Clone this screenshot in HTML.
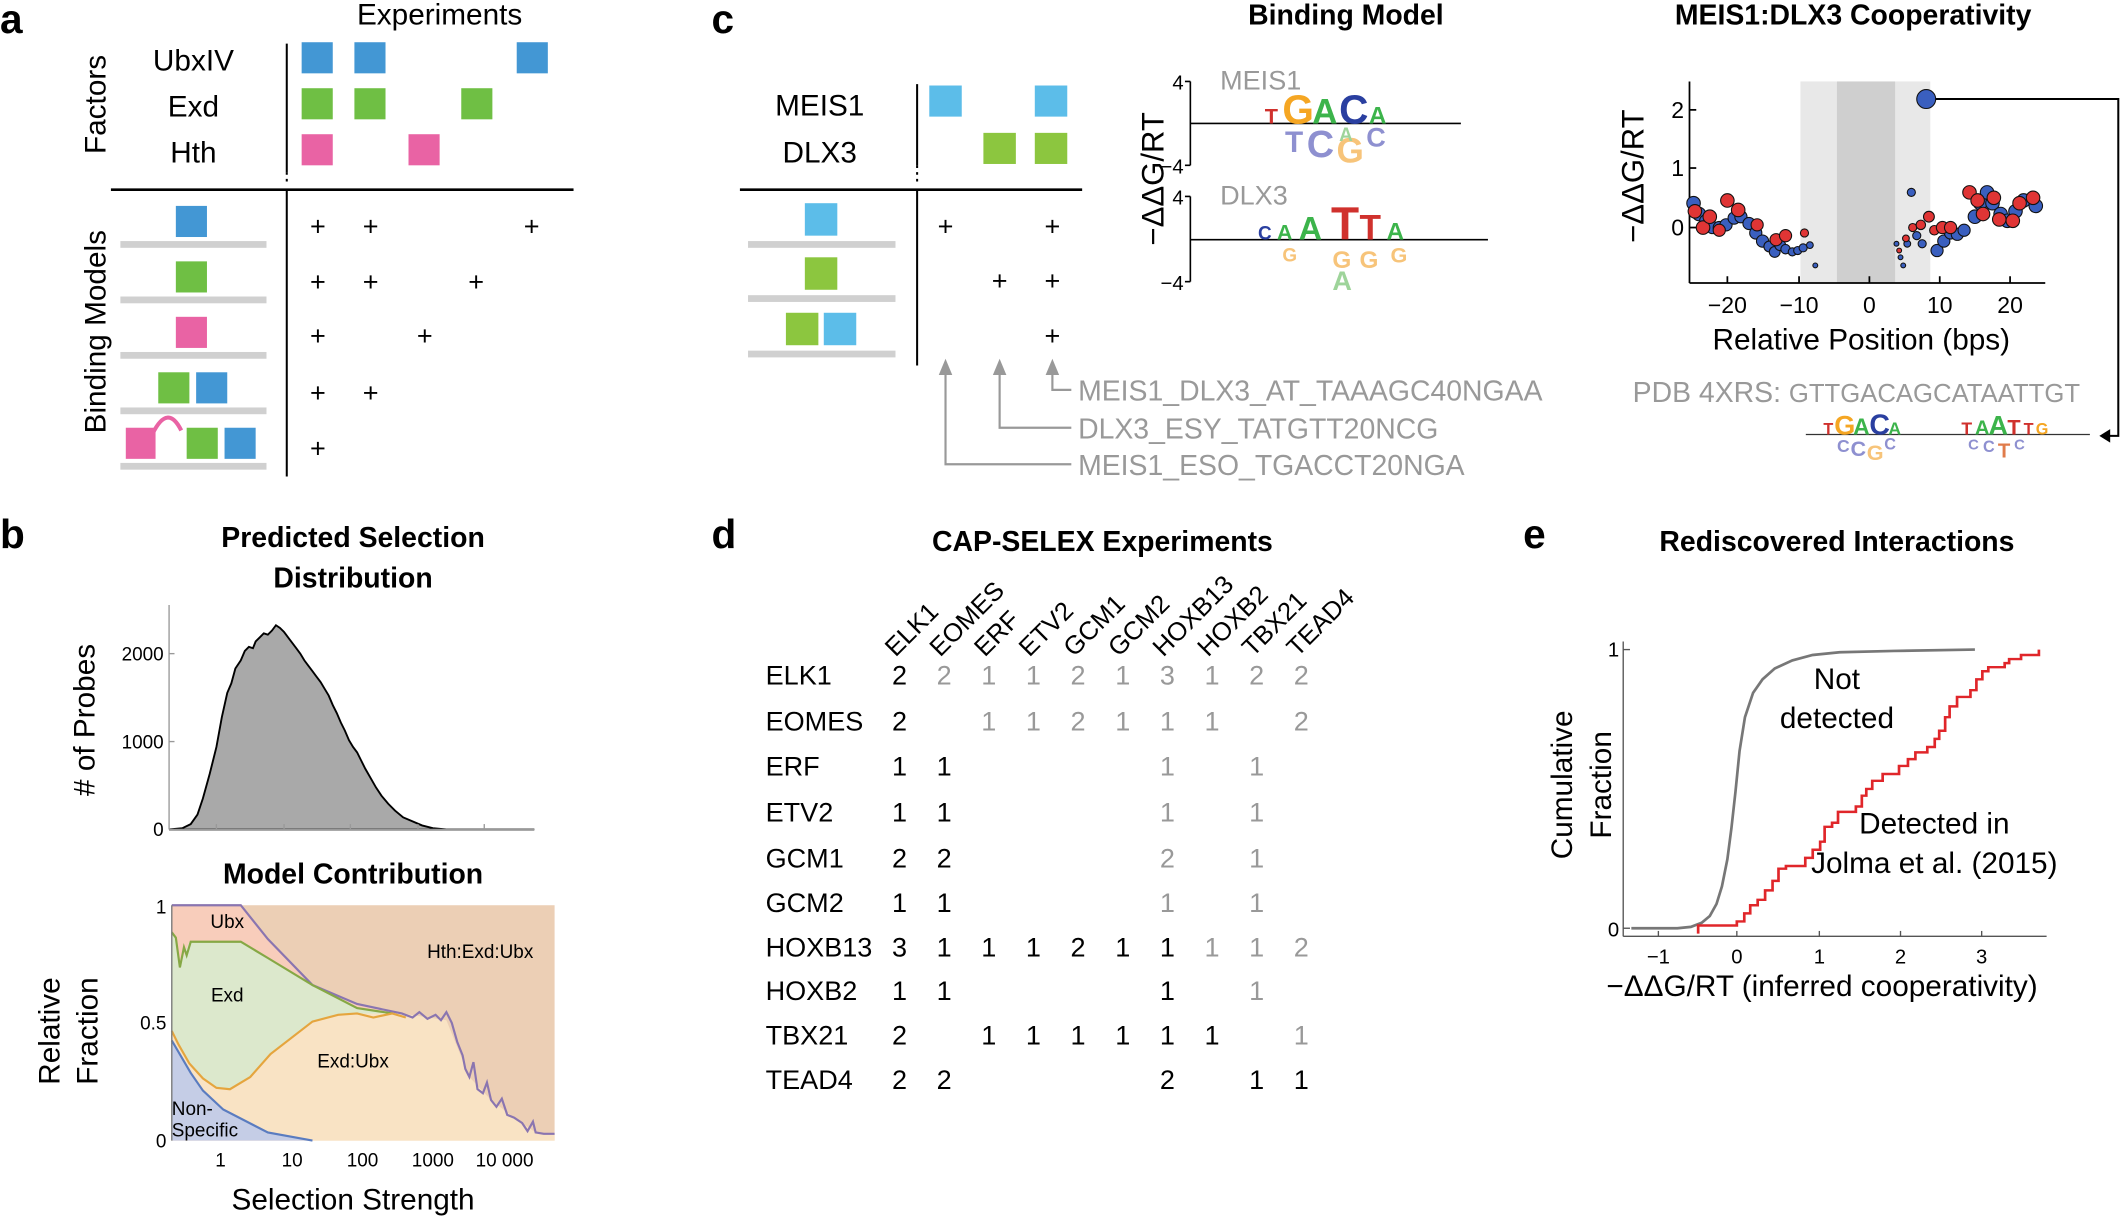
<!DOCTYPE html>
<html><head><meta charset="utf-8"><style>
html,body{margin:0;padding:0;background:#fff;}
svg{display:block;}
text{font-family:"Liberation Sans",sans-serif;}
</style></head><body>
<svg width="2121" height="1218" viewBox="0 0 1568 900" xmlns="http://www.w3.org/2000/svg">
<!-- ===== Panel a ===== -->
<text x="0" y="24" font-size="30" font-weight="bold">a</text>
<text x="325" y="18" font-size="22" text-anchor="middle">Experiments</text>
<text transform="translate(78,77) rotate(-90)" font-size="22" text-anchor="middle">Factors</text>
<text x="143" y="52" font-size="22" text-anchor="middle">UbxIV</text>
<text x="143" y="86" font-size="22" text-anchor="middle">Exd</text>
<text x="143" y="120" font-size="22" text-anchor="middle">Hth</text>
<line x1="212" y1="32" x2="212" y2="127" stroke="#000" stroke-width="1.5"/>
<line x1="212" y1="127" x2="212" y2="137" stroke="#000" stroke-width="1.5" stroke-dasharray="2,3"/>
<line x1="212" y1="140" x2="212" y2="352" stroke="#000" stroke-width="1.5"/>
<line x1="82" y1="140" x2="424" y2="140" stroke="#000" stroke-width="2"/>
<g fill="#4397d4"><rect x="223" y="31" width="23" height="23"/><rect x="262" y="31" width="23" height="23"/><rect x="382" y="31" width="23" height="23"/></g>
<g fill="#6fbf44"><rect x="223" y="65" width="23" height="23"/><rect x="262" y="65" width="23" height="23"/><rect x="341" y="65" width="23" height="23"/></g>
<g fill="#e963a4"><rect x="223" y="99" width="23" height="23"/><rect x="302" y="99" width="23" height="23"/></g>
<text transform="translate(78,245) rotate(-90)" font-size="22" text-anchor="middle">Binding Models</text>
<g fill="#d0d0d0"><rect x="89" y="178" width="108" height="5"/><rect x="89" y="219" width="108" height="5"/><rect x="89" y="260" width="108" height="5"/><rect x="89" y="301" width="108" height="5"/><rect x="89" y="342" width="108" height="5"/></g>
<rect x="130" y="152" width="23" height="23" fill="#4397d4"/>
<rect x="130" y="193" width="23" height="23" fill="#6fbf44"/>
<rect x="130" y="234" width="23" height="23" fill="#e963a4"/>
<rect x="117" y="275" width="23" height="23" fill="#6fbf44"/><rect x="145" y="275" width="23" height="23" fill="#4397d4"/>
<rect x="93" y="316" width="22" height="23" fill="#e963a4"/><rect x="138" y="316" width="23" height="23" fill="#6fbf44"/><rect x="166" y="316" width="23" height="23" fill="#4397d4"/>
<path d="M113,320 Q124,298 134,318" fill="none" stroke="#e963a4" stroke-width="3"/>
<g font-size="20" text-anchor="middle">
<text x="235" y="174">+</text><text x="274" y="174">+</text><text x="393" y="174">+</text>
<text x="235" y="215">+</text><text x="274" y="215">+</text><text x="352" y="215">+</text>
<text x="235" y="255">+</text><text x="314" y="255">+</text>
<text x="235" y="297">+</text><text x="274" y="297">+</text>
<text x="235" y="338">+</text>
</g>
<!-- ===== Panel c ===== -->
<text x="526" y="24" font-size="30" font-weight="bold">c</text>
<text x="606" y="85" font-size="22" text-anchor="middle">MEIS1</text>
<text x="606" y="120" font-size="22" text-anchor="middle">DLX3</text>
<line x1="678" y1="62" x2="678" y2="122" stroke="#000" stroke-width="1.5"/>
<line x1="678" y1="122" x2="678" y2="137" stroke="#000" stroke-width="1.5" stroke-dasharray="2,3"/>
<line x1="678" y1="140" x2="678" y2="270" stroke="#000" stroke-width="1.5"/>
<line x1="547" y1="140" x2="800" y2="140" stroke="#000" stroke-width="2"/>
<g fill="#5cbde9"><rect x="687" y="63" width="24" height="23"/><rect x="765" y="63" width="24" height="23"/></g>
<g fill="#8cc63f"><rect x="727" y="98" width="24" height="23"/><rect x="765" y="98" width="24" height="23"/></g>
<g fill="#d0d0d0"><rect x="553" y="178" width="109" height="5"/><rect x="553" y="218" width="109" height="5"/><rect x="553" y="259" width="109" height="5"/></g>
<rect x="595" y="150" width="24" height="24" fill="#5cbde9"/>
<rect x="595" y="190" width="24" height="24" fill="#8cc63f"/>
<rect x="581" y="231" width="24" height="24" fill="#8cc63f"/><rect x="609" y="231" width="24" height="24" fill="#5cbde9"/>
<g font-size="20" text-anchor="middle">
<text x="699" y="174">+</text><text x="778" y="174">+</text>
<text x="739" y="214">+</text><text x="778" y="214">+</text>
<text x="778" y="255">+</text>
</g>
<g stroke="#999" stroke-width="1.6" fill="none">
<polyline points="778,276 778,288 792,288"/>
<polyline points="739,276 739,316 792,316"/>
<polyline points="699,276 699,343 792,343"/>
</g>
<g fill="#999"><polygon points="694,277 704,277 699,265"/><polygon points="734,277 744,277 739,265"/><polygon points="773,277 783,277 778,265"/></g>
<g font-size="21" fill="#999">
<text x="797" y="296">MEIS1_DLX3_AT_TAAAGC40NGAA</text>
<text x="797" y="324">DLX3_ESY_TATGTT20NCG</text>
<text x="797" y="351">MEIS1_ESO_TGACCT20NGA</text>
</g>
<!-- Binding Model -->
<text x="995" y="18" font-size="21" font-weight="bold" text-anchor="middle">Binding Model</text>
<text transform="translate(860,132) rotate(-90)" font-size="23" text-anchor="middle">−ΔΔG/RT</text>
<g stroke="#000" stroke-width="1.2">
<line x1="880" y1="60" x2="880" y2="122"/><line x1="876" y1="60" x2="880" y2="60"/><line x1="876" y1="122" x2="880" y2="122"/>
<line x1="880" y1="91" x2="1080" y2="91"/>
<line x1="880" y1="145" x2="880" y2="208"/><line x1="876" y1="145" x2="880" y2="145"/><line x1="876" y1="208" x2="880" y2="208"/>
<line x1="880" y1="177" x2="1100" y2="177"/>
</g>
<g font-size="15" text-anchor="end"><text x="875" y="66">4</text><text x="875" y="128">−4</text><text x="875" y="151">4</text><text x="875" y="214">−4</text></g>
<text x="902" y="66" font-size="20" fill="#999">MEIS1</text>
<text x="902" y="151" font-size="20" fill="#999">DLX3</text>
<g font-weight="bold">
<text x="935" y="91" font-size="16" fill="#d0312d">T</text>
<text x="948" y="91" font-size="30" fill="#f5a623">G</text>
<text x="970" y="91" font-size="26" fill="#3cb44b">A</text>
<text x="990" y="91" font-size="30" fill="#2a3fa0">C</text>
<text x="1012" y="91" font-size="18" fill="#3cb44b">A</text>
<text x="950" y="112" font-size="22" fill="#8e90d0">T</text>
<text x="966" y="116" font-size="28" fill="#8e90d0">C</text>
<text x="988" y="120" font-size="26" fill="#f7c47a">G</text>
<text x="1010" y="108" font-size="20" fill="#8e90d0">C</text>
<text x="990" y="104" font-size="14" fill="#9ed49a">A</text>
<text x="930" y="177" font-size="14" fill="#2a3fa0">C</text>
<text x="944" y="177" font-size="16" fill="#3cb44b">A</text>
<text x="960" y="177" font-size="24" fill="#3cb44b">A</text>
<text x="984" y="177" font-size="34" fill="#d0312d">T</text>
<text x="1005" y="177" font-size="26" fill="#d0312d">T</text>
<text x="1025" y="177" font-size="18" fill="#3cb44b">A</text>
<text x="948" y="193" font-size="14" fill="#f7c47a">G</text>
<text x="985" y="198" font-size="18" fill="#f7c47a">G</text>
<text x="1005" y="198" font-size="18" fill="#f7c47a">G</text>
<text x="985" y="214" font-size="20" fill="#9ed49a">A</text>
<text x="1028" y="194" font-size="16" fill="#f7c47a">G</text>
</g>
<!-- Cooperativity -->
<text x="1370" y="18" font-size="21" font-weight="bold" text-anchor="middle">MEIS1:DLX3 Cooperativity</text>
<rect x="1331" y="60" width="96" height="149" fill="#e8e8e8"/>
<rect x="1358" y="60" width="43" height="149" fill="#cfcfcf"/>
<g stroke="#000" stroke-width="1.3">
<line x1="1249" y1="60" x2="1249" y2="209"/><line x1="1249" y1="209" x2="1512" y2="209"/>
<line x1="1249" y1="81" x2="1254" y2="81"/><line x1="1249" y1="124" x2="1254" y2="124"/><line x1="1249" y1="168" x2="1254" y2="168"/>
<line x1="1277" y1="209" x2="1277" y2="204"/><line x1="1330" y1="209" x2="1330" y2="204"/><line x1="1382" y1="209" x2="1382" y2="204"/><line x1="1434" y1="209" x2="1434" y2="204"/><line x1="1486" y1="209" x2="1486" y2="204"/>
</g>
<g font-size="17" text-anchor="end"><text x="1245" y="87">2</text><text x="1245" y="130">1</text><text x="1245" y="174">0</text></g>
<g font-size="17" text-anchor="middle"><text x="1277" y="231">−20</text><text x="1330" y="231">−10</text><text x="1382" y="231">0</text><text x="1434" y="231">10</text><text x="1486" y="231">20</text></g>
<text x="1376" y="258" font-size="22" text-anchor="middle">Relative Position (bps)</text>
<text transform="translate(1215,130) rotate(-90)" font-size="23" text-anchor="middle">−ΔΔG/RT</text>
<g stroke="#111" stroke-width="0.8" transform="translate(0,0)">
<g fill="#3a5fbf">
<circle cx="1252" cy="150" r="5"/><circle cx="1256" cy="158" r="5"/><circle cx="1261" cy="163" r="4.5"/><circle cx="1266" cy="168" r="4.5"/><circle cx="1271" cy="168" r="4.5"/><circle cx="1276" cy="166" r="4.5"/><circle cx="1282" cy="161" r="4.5"/><circle cx="1287" cy="160" r="4.5"/><circle cx="1293" cy="165" r="4.5"/><circle cx="1298" cy="172" r="4.5"/><circle cx="1303" cy="178" r="4.5"/><circle cx="1308" cy="182" r="4"/><circle cx="1312" cy="186" r="4"/><circle cx="1316" cy="181" r="4"/><circle cx="1320" cy="184" r="3.5"/><circle cx="1325" cy="186" r="3"/><circle cx="1329" cy="185" r="3"/><circle cx="1333" cy="183" r="3"/><circle cx="1338" cy="181" r="2.5"/><circle cx="1342" cy="196" r="1.8"/>
<circle cx="1402" cy="180" r="1.8"/><circle cx="1405" cy="190" r="1.8"/><circle cx="1407" cy="196" r="1.8"/><circle cx="1410" cy="180" r="2.5"/><circle cx="1413" cy="142" r="3"/><circle cx="1417" cy="174" r="3"/><circle cx="1421" cy="180" r="3"/>
<circle cx="1432" cy="185" r="4.5"/><circle cx="1437" cy="178" r="4.5"/><circle cx="1442" cy="172" r="4.5"/><circle cx="1447" cy="173" r="4.5"/><circle cx="1452" cy="170" r="4.5"/><circle cx="1460" cy="160" r="5"/><circle cx="1464" cy="150" r="5"/><circle cx="1469" cy="142" r="5"/><circle cx="1473" cy="150" r="5"/><circle cx="1479" cy="158" r="5"/><circle cx="1484" cy="163" r="5"/><circle cx="1490" cy="156" r="5"/><circle cx="1496" cy="148" r="5"/><circle cx="1505" cy="152" r="5"/>
<circle cx="1424" cy="73" r="7"/>
</g>
<g fill="#e03535">
<circle cx="1253" cy="156" r="5"/><circle cx="1259" cy="168" r="5"/><circle cx="1264" cy="160" r="5"/><circle cx="1271" cy="170" r="4.5"/><circle cx="1277" cy="148" r="5"/><circle cx="1285" cy="155" r="5"/><circle cx="1299" cy="166" r="4.5"/><circle cx="1313" cy="177" r="4.5"/><circle cx="1320" cy="174" r="4.5"/><circle cx="1334" cy="172" r="3"/>
<circle cx="1404" cy="185" r="1.8"/><circle cx="1409" cy="176" r="2.5"/><circle cx="1414" cy="168" r="3"/><circle cx="1420" cy="166" r="3.5"/><circle cx="1426" cy="160" r="4"/><circle cx="1430" cy="170" r="3.5"/><circle cx="1436" cy="168" r="4.5"/><circle cx="1442" cy="168" r="4.5"/><circle cx="1456" cy="142" r="5"/><circle cx="1462" cy="148" r="5"/><circle cx="1466" cy="158" r="5"/><circle cx="1474" cy="146" r="5"/><circle cx="1478" cy="162" r="5"/><circle cx="1488" cy="163" r="5"/><circle cx="1493" cy="150" r="5"/><circle cx="1503" cy="146" r="5"/>
</g>
</g>
<polyline points="1431,73 1566,73 1566,322 1556,322" fill="none" stroke="#000" stroke-width="1.5"/>
<polygon points="1552,322 1560,317 1560,327" fill="#000"/>
<text x="1207" y="297" font-size="21" fill="#999">PDB 4XRS: <tspan font-size="19">GTTGACAGCATAATTGT</tspan></text>
<line x1="1335" y1="321" x2="1545" y2="321" stroke="#333" stroke-width="1"/>
<g font-weight="bold">
<text x="1348" y="321" font-size="12" fill="#d0312d">T</text><text x="1356" y="321" font-size="20" fill="#f5a623">G</text><text x="1370" y="321" font-size="17" fill="#3cb44b">A</text><text x="1382" y="321" font-size="21" fill="#2a3fa0">C</text><text x="1396" y="321" font-size="13" fill="#3cb44b">A</text>
<text x="1358" y="334" font-size="13" fill="#8e90d0">C</text><text x="1368" y="337" font-size="16" fill="#8e90d0">C</text><text x="1380" y="340" font-size="16" fill="#f7c47a">G</text><text x="1393" y="332" font-size="12" fill="#8e90d0">C</text>
<text x="1450" y="321" font-size="13" fill="#d0312d">T</text><text x="1460" y="321" font-size="15" fill="#3cb44b">A</text><text x="1470" y="321" font-size="20" fill="#3cb44b">A</text><text x="1484" y="321" font-size="16" fill="#d0312d">T</text><text x="1496" y="321" font-size="12" fill="#d0312d">T</text><text x="1505" y="321" font-size="12" fill="#f5a623">G</text>
<text x="1455" y="332" font-size="11" fill="#8e90d0">C</text><text x="1466" y="334" font-size="12" fill="#8e90d0">C</text><text x="1477" y="338" font-size="15" fill="#e07b4a">T</text><text x="1489" y="332" font-size="11" fill="#8e90d0">C</text>
</g>
<!-- ===== Panel b ===== -->
<text x="0" y="405" font-size="30" font-weight="bold">b</text>
<text x="261" y="404" font-size="21" font-weight="bold" text-anchor="middle">Predicted Selection</text>
<text x="261" y="434" font-size="21" font-weight="bold" text-anchor="middle">Distribution</text>
<text transform="translate(70,532) rotate(-90)" font-size="22" text-anchor="middle"># of Probes</text>
<path d="M125,613 L135,612 L141,609 L146,602 L150,590 L155,572 L160,552 L164,530 L168,512 L171,505 L174,494 L178,488 L181,481 L184,478 L187,479 L189,474 L192,471 L195,468 L198,469 L201,466 L204,462 L207,464 L210,467 L213,471 L216,475 L219,479 L222,483 L225,488 L228,492 L231,496 L234,500 L237,504 L240,509 L243,514 L246,521 L249,527 L252,534 L255,540 L258,547 L261,552 L264,556 L267,562 L270,568 L274,575 L278,582 L282,588 L287,594 L292,599 L298,604 L305,607 L312,610 L320,612 L330,613 L395,613 Z" fill="#a9a9a9" stroke="#000" stroke-width="1.4"/>
<g stroke="#999" stroke-width="1"><line x1="125" y1="447" x2="125" y2="613"/><line x1="125" y1="613" x2="395" y2="613"/>
<line x1="125" y1="483" x2="129" y2="483"/><line x1="125" y1="548" x2="129" y2="548"/>
<line x1="160" y1="613" x2="160" y2="609"/><line x1="210" y1="613" x2="210" y2="609"/><line x1="259" y1="613" x2="259" y2="609"/><line x1="309" y1="613" x2="309" y2="609"/><line x1="358" y1="613" x2="358" y2="609"/></g>
<g font-size="14" text-anchor="end"><text x="121" y="488">2000</text><text x="121" y="553">1000</text><text x="121" y="618">0</text></g>
<text x="261" y="653" font-size="21" font-weight="bold" text-anchor="middle">Model Contribution</text>
<rect x="127" y="669" width="283" height="174" fill="#eccfb5"/>
<path d="M127,669 L178,669 L198,694 L231,728 L264,742 L297,749 L330,754 L347,796 L363,813 L380,826 L396,837 L410,838 L410,843 L127,843 Z" fill="#f9e3c4"/>
<path d="M127,669 L178,669 L198,694 L231,728 L264,742 L297,749 L264,745 L231,728 L198,708 L178,696 L145,696 L137,703 L133,715 L130,693 L127,689 Z" fill="#f8cdbb"/>
<path d="M127,689 L130,693 L133,715 L137,703 L140,696 L145,696 L178,696 L198,708 L231,728 L264,745 L290,749 L264,749 L250,750 L231,755 L200,779 L185,796 L170,805 L160,804 L150,797 L140,786 L132,772 L127,762 Z" fill="#dce8cc"/>
<path d="M127,769 L141,793 L150,806 L165,820 L198,837 L231,843 L127,843 Z" fill="#c5cde6"/>
<polyline points="127,669 178,669 198,694 231,728 264,742 297,749 305,752 310,748 316,753 322,750 326,754 330,748 334,756 338,770 342,780 344,790 347,796 350,785 353,805 357,808 360,800 363,813 367,818 371,812 375,824 380,826 386,830 390,836 394,829 396,837 402,838 410,838" fill="none" stroke="#8a75b0" stroke-width="1.6"/>
<polyline points="127,689 130,693 133,715 136,700 138,706 141,696 145,696 178,696 198,708 231,728 264,745 290,749" fill="none" stroke="#86a845" stroke-width="1.6"/>
<polyline points="127,762 132,772 140,786 150,797 160,804 170,805 185,796 200,779 231,755 250,750 264,749 276,752 290,749 300,752" fill="none" stroke="#e5a53e" stroke-width="1.6"/>
<polyline points="127,769 141,793 150,806 165,820 198,837 231,843" fill="none" stroke="#5a7cc0" stroke-width="1.6"/>
<line x1="127" y1="669" x2="127" y2="843" stroke="#777" stroke-width="1"/>
<g font-size="14" text-anchor="end"><text x="123" y="675">1</text><text x="123" y="761">0.5</text><text x="123" y="848">0</text></g>
<g font-size="14" text-anchor="middle"><text x="163" y="862">1</text><text x="216" y="862">10</text><text x="268" y="862">100</text><text x="320" y="862">1000</text><text x="373" y="862">10 000</text></g>
<g font-size="14">
<text x="168" y="686" text-anchor="middle">Ubx</text>
<text x="168" y="740" text-anchor="middle">Exd</text>
<text x="261" y="789" text-anchor="middle">Exd:Ubx</text>
<text x="355" y="708" text-anchor="middle">Hth:Exd:Ubx</text>
<text x="127" y="824">Non-</text><text x="127" y="840">Specific</text>
</g>
<text transform="translate(44,762) rotate(-90)" font-size="22" text-anchor="middle">Relative</text>
<text transform="translate(72,762) rotate(-90)" font-size="22" text-anchor="middle">Fraction</text>
<text x="261" y="894" font-size="22" text-anchor="middle">Selection Strength</text>
<!-- ===== Panel d ===== -->
<text x="526" y="405" font-size="30" font-weight="bold">d</text>
<text x="815" y="407" font-size="21" font-weight="bold" text-anchor="middle">CAP-SELEX Experiments</text>
<g font-size="19">
<text transform="translate(662,486) rotate(-45)">ELK1</text>
<text transform="translate(695,486) rotate(-45)">EOMES</text>
<text transform="translate(728,486) rotate(-45)">ERF</text>
<text transform="translate(761,486) rotate(-45)">ETV2</text>
<text transform="translate(794,486) rotate(-45)">GCM1</text>
<text transform="translate(827,486) rotate(-45)">GCM2</text>
<text transform="translate(860,486) rotate(-45)">HOXB13</text>
<text transform="translate(893,486) rotate(-45)">HOXB2</text>
<text transform="translate(926,486) rotate(-45)">TBX21</text>
<text transform="translate(959,486) rotate(-45)">TEAD4</text>
</g>
<g font-size="20">
<text x="566" y="506">ELK1</text><text x="566" y="540">EOMES</text><text x="566" y="573">ERF</text><text x="566" y="607">ETV2</text><text x="566" y="641">GCM1</text><text x="566" y="674">GCM2</text><text x="566" y="707">HOXB13</text><text x="566" y="739">HOXB2</text><text x="566" y="772">TBX21</text><text x="566" y="805">TEAD4</text>
</g>
<g font-size="20" text-anchor="middle">
<text x="665" y="506">2</text><g fill="#999"><text x="698" y="506">2</text><text x="731" y="506">1</text><text x="764" y="506">1</text><text x="797" y="506">2</text><text x="830" y="506">1</text><text x="863" y="506">3</text><text x="896" y="506">1</text><text x="929" y="506">2</text><text x="962" y="506">2</text></g>
<text x="665" y="540">2</text><g fill="#999"><text x="731" y="540">1</text><text x="764" y="540">1</text><text x="797" y="540">2</text><text x="830" y="540">1</text><text x="863" y="540">1</text><text x="896" y="540">1</text><text x="962" y="540">2</text></g>
<text x="665" y="573">1</text><text x="698" y="573">1</text><g fill="#999"><text x="863" y="573">1</text><text x="929" y="573">1</text></g>
<text x="665" y="607">1</text><text x="698" y="607">1</text><g fill="#999"><text x="863" y="607">1</text><text x="929" y="607">1</text></g>
<text x="665" y="641">2</text><text x="698" y="641">2</text><g fill="#999"><text x="863" y="641">2</text><text x="929" y="641">1</text></g>
<text x="665" y="674">1</text><text x="698" y="674">1</text><g fill="#999"><text x="863" y="674">1</text><text x="929" y="674">1</text></g>
<text x="665" y="707">3</text><text x="698" y="707">1</text><text x="731" y="707">1</text><text x="764" y="707">1</text><text x="797" y="707">2</text><text x="830" y="707">1</text><text x="863" y="707">1</text><g fill="#999"><text x="896" y="707">1</text><text x="929" y="707">1</text><text x="962" y="707">2</text></g>
<text x="665" y="739">1</text><text x="698" y="739">1</text><text x="863" y="739">1</text><g fill="#999"><text x="929" y="739">1</text></g>
<text x="665" y="772">2</text><text x="731" y="772">1</text><text x="764" y="772">1</text><text x="797" y="772">1</text><text x="830" y="772">1</text><text x="863" y="772">1</text><text x="896" y="772">1</text><g fill="#999"><text x="962" y="772">1</text></g>
<text x="665" y="805">2</text><text x="698" y="805">2</text><text x="863" y="805">2</text><text x="929" y="805">1</text><text x="962" y="805">1</text>
</g>
<!-- ===== Panel e ===== -->
<text x="1126" y="405" font-size="30" font-weight="bold">e</text>
<text x="1358" y="407" font-size="21" font-weight="bold" text-anchor="middle">Rediscovered Interactions</text>
<g stroke="#555" stroke-width="1">
<line x1="1200" y1="474" x2="1200" y2="692"/><line x1="1200" y1="692" x2="1513" y2="692"/>
<line x1="1200" y1="480" x2="1205" y2="480"/><line x1="1200" y1="686" x2="1205" y2="686"/>
<line x1="1226" y1="692" x2="1226" y2="688"/><line x1="1284" y1="692" x2="1284" y2="688"/><line x1="1345" y1="692" x2="1345" y2="688"/><line x1="1405" y1="692" x2="1405" y2="688"/><line x1="1465" y1="692" x2="1465" y2="688"/>
</g>
<g font-size="15"><text x="1197" y="485" text-anchor="end">1</text><text x="1197" y="692" text-anchor="end">0</text>
<g text-anchor="middle"><text x="1226" y="712">−1</text><text x="1284" y="712">0</text><text x="1345" y="712">1</text><text x="1405" y="712">2</text><text x="1465" y="712">3</text></g></g>
<path d="M1206,686 L1240,686 L1250,685 L1258,682 L1264,677 L1269,668 L1273,655 L1277,635 L1280,612 L1283,585 L1286,555 L1290,530 L1296,512 L1303,502 L1312,494 L1325,488 L1340,484 L1360,482 L1400,481 L1460,480" fill="none" stroke="#777" stroke-width="2"/>
<g transform="translate(1284,0) scale(1.1,1) translate(-1284,0)">
<path d="M1258,690 L1258,684 L1284,684 L1284,681 L1289,681 L1289,675 L1293,675 L1293,669 L1298,669 L1298,665 L1303,665 L1303,658 L1308,658 L1308,651 L1312,651 L1312,642 L1317,642 L1317,640 L1330,640 L1330,634 L1335,634 L1335,628 L1340,628 L1340,622 L1343,622 L1343,611 L1348,611 L1348,608 L1352,608 L1352,600 L1364,600 L1364,596 L1368,596 L1368,588 L1371,588 L1371,583 L1375,583 L1375,577 L1382,577 L1382,572 L1393,572 L1393,566 L1399,566 L1399,561 L1404,561 L1404,556 L1412,556 L1412,552 L1417,552 L1417,546 L1420,546 L1420,540 L1424,540 L1424,530 L1427,530 L1427,522 L1432,522 L1432,515 L1441,515 L1441,510 L1445,510 L1445,502 L1449,502 L1449,496 L1453,496 L1453,493 L1464,493 L1464,490 L1467,490 L1467,487 L1475,487 L1475,484 L1487,484 L1487,480" fill="none" stroke="#e0262a" stroke-width="1.8"/>
</g>
<g font-size="22" text-anchor="middle">
<text x="1358" y="509">Not</text><text x="1358" y="538">detected</text>
<text x="1430" y="616">Detected in</text><text x="1430" y="645">Jolma et al. (2015)</text>
</g>
<text transform="translate(1162,580) rotate(-90)" font-size="22" text-anchor="middle">Cumulative</text>
<text transform="translate(1191,580) rotate(-90)" font-size="22" text-anchor="middle">Fraction</text>
<text x="1347" y="736" font-size="22" text-anchor="middle">−ΔΔG/RT (inferred cooperativity)</text>
</svg>
</body></html>
